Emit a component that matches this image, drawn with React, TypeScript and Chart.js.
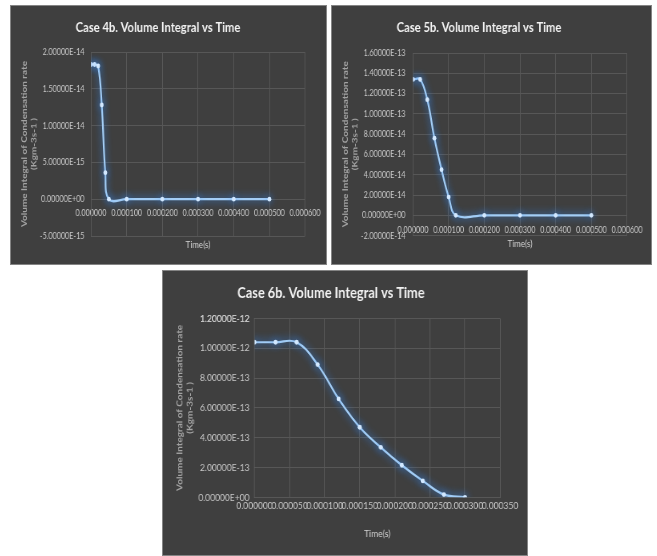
import React, { useEffect, useRef } from 'react';
import { Chart, registerables } from 'chart.js';

Chart.register(...registerables);

// ---------- Case 4b ----------
const case4bTime = [0, 0.00001, 0.00002, 0.00003, 0.00004, 0.00005, 0.0001, 0.0002, 0.0003, 0.0004, 0.0005];
const case4bRate = [1.83e-14, 1.83e-14, 1.81e-14, 1.28e-14, 3.6e-15, 0, 0, 0, 0, 0, 0];
const case4bYMin = -5e-15;
const case4bYMax = 2e-14;
const case4bYStep = 5e-15;
const case4bXMax = 0.0006;
const case4bXStep = 0.0001;

// ---------- Case 5b ----------
const case5bTime = [0, 0.00002, 0.00004, 0.00006, 0.00008, 0.0001, 0.00012, 0.0002, 0.0003, 0.0004, 0.0005];
const case5bRate = [1.34e-13, 1.34e-13, 1.14e-13, 7.6e-14, 4.5e-14, 1.8e-14, 0, 0, 0, 0, 0];
const case5bYMin = -2e-14;
const case5bYMax = 1.6e-13;
const case5bYStep = 2e-14;
const case5bXMax = 0.0006;
const case5bXStep = 0.0001;

// ---------- Case 6b ----------
const case6bTime = [0, 0.00003, 0.00006, 0.00009, 0.00012, 0.00015, 0.00018, 0.00021, 0.00024, 0.00027, 0.0003];
const case6bRate = [1.04e-12, 1.04e-12, 1.04e-12, 8.9e-13, 6.6e-13, 4.7e-13, 3.35e-13, 2.15e-13, 1.1e-13, 1.8e-14, 0];
const case6bYMin = 0;
const case6bYMax = 1.2e-12;
const case6bYStep = 2e-13;
const case6bXMax = 0.00035;
const case6bXStep = 0.00005;

const yTitleLines = ['Volume Integral of Condensation rate', '(Kgm-3s-1 )'];
const xTitleText = 'Time(s)';

const FONT = 'Lato, "Open Sans", "Liberation Sans", sans-serif';
const BG = '#3f3f3f';
const GRID = '#575757';
const TICK_COLOR = '#c8c8c8';
const TITLE_COLOR = '#f2f2f2';
const XTITLE_COLOR = '#d4d4d4';
const YTITLE_COLOR = '#a3a3a3';
const LINE_COLOR = '#a3cdf5';
const POINT_COLOR = '#d2e8ff';

function sci(v: number, step: number): string {
  let val = Number(v);
  if (Math.abs(val) < step * 1e-6) val = 0;
  const [m, e] = val.toExponential(5).split('e');
  const n = parseInt(e, 10);
  return `${m}E${n < 0 ? '-' : '+'}${String(Math.abs(n)).padStart(2, '0')}`;
}

const glowPlugin = {
  id: 'glowLine',
  beforeDatasetDraw(chart: any) {
    const ctx = chart.ctx;
    ctx.save();
    ctx.shadowColor = 'rgba(55,140,245,1)';
    ctx.shadowBlur = 9;
  },
  afterDatasetDraw(chart: any) {
    chart.ctx.restore();
  },
};

type Spec = {
  title: string;
  time: number[];
  rate: number[];
  yMin: number;
  yMax: number;
  yStep: number;
  xMax: number;
  xStep: number;
  box: { left: number; top: number; width: number; height: number };
  squish: number;
  plot: { left: number; right: number; top: number; bottom: number };
  titleY: number;
  titleSize: number;
  tickSize: number;
  yTitleX: number;
  yLabelGap: number;
  xLabelGap: number;
  xTitleGap: number;
};

const panels: Spec[] = [
  {
    title: 'Case 4b. Volume Integral vs Time',
    time: case4bTime, rate: case4bRate,
    yMin: case4bYMin, yMax: case4bYMax, yStep: case4bYStep,
    xMax: case4bXMax, xStep: case4bXStep,
    box: { left: 10, top: 5, width: 317, height: 260 },
    squish: 0.8,
    plot: { left: 81, right: 296, top: 47, bottom: 231 },
    titleY: 22, titleSize: 14, tickSize: 9,
    yTitleX: 14, yLabelGap: 6.5, xLabelGap: 13.5, xTitleGap: 46,
  },
  {
    title: 'Case 5b. Volume Integral vs Time',
    time: case5bTime, rate: case5bRate,
    yMin: case5bYMin, yMax: case5bYMax, yStep: case5bYStep,
    xMax: case5bXMax, xStep: case5bXStep,
    box: { left: 331, top: 5, width: 321, height: 260 },
    squish: 0.8,
    plot: { left: 82, right: 296, top: 48, bottom: 230.6 },
    titleY: 22, titleSize: 14, tickSize: 9,
    yTitleX: 14, yLabelGap: 7.5, xLabelGap: 15, xTitleGap: 28,
  },
  {
    title: 'Case 6b. Volume Integral vs Time',
    time: case6bTime, rate: case6bRate,
    yMin: case6bYMin, yMax: case6bYMax, yStep: case6bYStep,
    xMax: case6bXMax, xStep: case6bXStep,
    box: { left: 162, top: 270, width: 366, height: 286 },
    squish: 0.85,
    plot: { left: 92.5, right: 338, top: 48.4, bottom: 227.3 },
    titleY: 23.3, titleSize: 15, tickSize: 10,
    yTitleX: 17.5, yLabelGap: 5, xLabelGap: 8.5, xTitleGap: 36,
  },
];

function Panel({ spec }: { spec: Spec }) {
  const ref = useRef<HTMLCanvasElement>(null);
  const iw = Math.round(spec.box.width / spec.squish);
  const sx = spec.box.width / iw;

  useEffect(() => {
    const canvas = ref.current;
    if (!canvas) return;
    const p = spec.plot;
    const tickLH = spec.tickSize * 1.2;
    const titleLH = spec.titleSize * 1.2;
    const titlePadTop = spec.titleY - titleLH / 2;
    const tickFont = { family: FONT, size: spec.tickSize, lineHeight: 1.2 };
    const chart = new Chart(canvas, {
      type: 'line',
      data: {
        datasets: [
          {
            data: spec.time.map((t, i) => ({ x: t, y: spec.rate[i] })),
            borderColor: LINE_COLOR,
            backgroundColor: POINT_COLOR,
            borderWidth: 2.2,
            pointRadius: 2.4,
            pointBorderWidth: 0,
            pointBackgroundColor: POINT_COLOR,
            tension: 0.4,
            fill: false,
          },
        ],
      },
      options: {
        responsive: false,
        maintainAspectRatio: false,
        animation: false,
        devicePixelRatio: 1,
        layout: {
          padding: {
            left: 0,
            top: 0,
            right: (spec.box.width - p.right) / sx,
            bottom: spec.box.height - p.bottom,
          },
        },
        plugins: {
          legend: { display: false },
          tooltip: { enabled: false },
          title: {
            display: true,
            text: spec.title,
            color: TITLE_COLOR,
            font: { family: FONT, size: spec.titleSize, weight: 'bold', lineHeight: 1.2 },
            padding: { top: titlePadTop, bottom: p.top - titlePadTop - titleLH },
          },
        },
        scales: {
          x: {
            type: 'linear',
            position: { y: 0 },
            min: 0,
            max: spec.xMax,
            afterFit: (s: any) => {
              s.height = spec.xTitleGap + 6;
            },
            ticks: {
              stepSize: spec.xStep,
              autoSkip: false,
              maxRotation: 0,
              minRotation: 0,
              padding: spec.xLabelGap - tickLH / 2,
              color: TICK_COLOR,
              font: tickFont,
              callback: (v: any) => Number(v).toFixed(6),
            },
            grid: { color: GRID, drawTicks: false },
            border: { color: GRID },
            title: {
              display: true,
              text: xTitleText,
              color: XTITLE_COLOR,
              font: { family: FONT, size: 10, lineHeight: 1.2 },
              padding: 0,
            },
          },
          y: {
            type: 'linear',
            position: 'left',
            min: spec.yMin,
            max: spec.yMax,
            afterFit: (s: any) => {
              s.width = p.left / sx;
            },
            ticks: {
              stepSize: spec.yStep,
              padding: spec.yLabelGap / sx,
              color: TICK_COLOR,
              font: tickFont,
              callback: (v: any) => sci(Number(v), spec.yStep),
            },
            grid: { color: GRID, drawTicks: false },
            border: { color: GRID },
            title: {
              display: true,
              text: yTitleLines,
              color: YTITLE_COLOR,
              font: { family: FONT, size: 10, weight: 'bold', lineHeight: 1.2 },
              padding: { top: spec.yTitleX / sx - 6, bottom: 0 },
            },
          },
        },
      } as any,
      plugins: [glowPlugin],
    });
    return () => chart.destroy();
  }, []);

  return (
    <div
      style={{
        position: 'absolute',
        left: spec.box.left,
        top: spec.box.top,
        width: spec.box.width,
        height: spec.box.height,
        background: BG,
        overflow: 'hidden',
        boxShadow: 'inset 0 0 0 1px rgba(150,150,150,0.8)',
      }}
    >
      <canvas
        ref={ref}
        width={iw}
        height={spec.box.height}
        style={{
          position: 'absolute',
          left: 0,
          top: 0,
          width: iw,
          height: spec.box.height,
          transform: `scaleX(${sx})`,
          transformOrigin: '0 0',
        }}
      />
    </div>
  );
}

export default function App() {
  return (
    <div style={{ position: 'absolute', left: 0, top: 0, width: 657, height: 556, background: '#ffffff' }}>
      {panels.map((s, i) => (
        <Panel key={i} spec={s} />
      ))}
    </div>
  );
}
